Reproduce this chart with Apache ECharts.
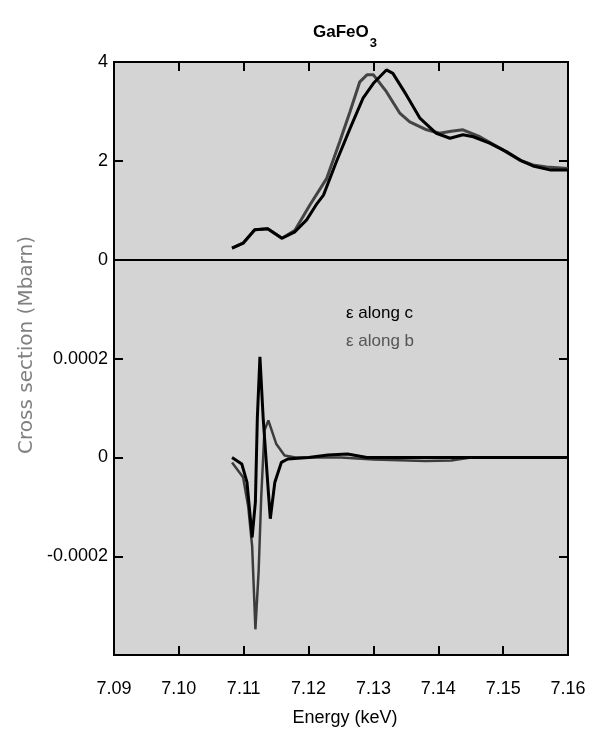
<!DOCTYPE html>
<html><head><meta charset="utf-8">
<script src="https://cdn.jsdelivr.net/npm/echarts@6/dist/echarts.min.js"></script>
<style>html,body{margin:0;padding:0;background:#fff}#c{width:597px;height:753px}</style>
</head><body><div id="c"></div>
<script>
// ---- data ----
const xTicks = [7.09, 7.10, 7.11, 7.12, 7.13, 7.14, 7.15, 7.16];
const topTicks = [0, 2, 4];
const botTicks = [-0.0002, 0, 0.0002];

// top panel: cross section (Mbarn)
const topCx = [7.1082,7.1099,7.1117,7.1137,7.1159,7.1179,7.1197,7.1213,7.1223,7.1243,7.1264,7.1284,7.1300,7.1320,7.1330,7.1351,7.1372,7.1397,7.1418,7.1438,7.1454,7.1479,7.1505,7.1530,7.1546,7.1572,7.1600];
const topCy = [0.24,0.34,0.61,0.63,0.44,0.57,0.81,1.14,1.31,1.99,2.66,3.27,3.57,3.84,3.77,3.33,2.86,2.56,2.46,2.53,2.49,2.36,2.19,1.99,1.90,1.82,1.82];
const topBx = [7.1082,7.1099,7.1117,7.1137,7.1159,7.1179,7.1202,7.1228,7.1248,7.1264,7.1279,7.1290,7.1300,7.1320,7.1341,7.1356,7.1382,7.1402,7.1420,7.1438,7.1464,7.1495,7.1525,7.1546,7.1567,7.1600];
const topBy = [0.24,0.34,0.61,0.63,0.44,0.60,1.11,1.65,2.39,3.00,3.60,3.74,3.74,3.40,2.96,2.79,2.63,2.56,2.60,2.63,2.49,2.26,2.02,1.92,1.88,1.85];

// bottom panel: dichroic signal
const botCx = [7.1082,7.1097,7.1105,7.1113,7.1118,7.1121,7.1125,7.1130,7.1138,7.1141,7.1148,7.1158,7.1168,7.1200,7.1230,7.1260,7.1290,7.1350,7.1600];
const botCy = [0.0,-0.000013,-0.00005,-0.000162,-0.00009,0.00008,0.000204,0.00008,-0.00007,-0.000124,-0.00005,-0.00001,-0.000003,0.0,0.000005,0.000007,0.0,0.0,0.0];
const botBx = [7.1082,7.1099,7.1107,7.1113,7.1116,7.1118,7.1123,7.1127,7.1132,7.1138,7.1150,7.1163,7.1180,7.1250,7.1300,7.1380,7.1420,7.1450,7.1600];
const botBy = [-0.00001,-0.00004,-0.0001,-0.00018,-0.00028,-0.000348,-0.00023,-0.00008,0.000055,0.000075,0.000028,0.000004,0.0,0.0,-0.000004,-0.000007,-0.000006,0.0,0.0];

const seriesNames = ['\u03b5 along c', '\u03b5 along b'];

function zip(a, b) { return a.map((v, i) => [v, b[i]]); }

const chart = echarts.init(document.getElementById('c'), null, {renderer: 'canvas'});
const FONT = 'Liberation Sans';
const L = 114, R = 29, T = 62, MID = 260, B = 98;

function xAx(gi, pos, showLabel) {
  return {
    type: 'value', gridIndex: gi, min: 7.09, max: 7.16, interval: 0.01, position: pos,
    axisLine: {show: false, onZero: false},
    axisTick: {show: true, inside: true, length: 9, lineStyle: {color: '#000', width: 2}},
    splitLine: {show: false},
    axisLabel: {show: showLabel, margin: 25, fontFamily: FONT, fontSize: 18, color: '#000',
      formatter: v => v.toFixed(2)}
  };
}
function yAx(gi, pos, min, max, interval, fmt, showLabel) {
  return {
    type: 'value', gridIndex: gi, min: min, max: max, interval: interval, position: pos,
    axisLine: {show: false, onZero: false},
    axisTick: {show: true, inside: true, length: 9, lineStyle: {color: '#000', width: 2}},
    splitLine: {show: false},
    axisLabel: {show: showLabel, margin: 6, fontFamily: FONT, fontSize: 18, color: '#000', formatter: fmt}
  };
}
const topFmt = v => topTicks.some(t => Math.abs(t - v) < 1e-9) ? String(v) : '';
const botFmt = v => {
  for (const t of botTicks) if (Math.abs(t - v) < 1e-9) return t === 0 ? '0' : t.toFixed(4);
  return '';
};

chart.setOption({
  animation: false,
  backgroundColor: '#fff',
  title: {
    text: '{a|GaFeO}{b|3}', left: 308, top: 10,
    textStyle: {rich: {
      a: {fontFamily: FONT, fontSize: 17, fontWeight: 'bold', color: '#000'},
      b: {fontFamily: FONT, fontSize: 13, fontWeight: 'bold', color: '#000', padding: [22, 0, 0, 1]}
    }}
  },
  grid: [
    {left: L, right: R, top: T, height: MID - T, show: true, backgroundColor: '#d4d4d4', borderColor: '#000', borderWidth: 2},
    {left: L, right: R, top: MID, bottom: B, show: true, backgroundColor: '#d4d4d4', borderColor: '#000', borderWidth: 2}
  ],
  xAxis: [
    xAx(0, 'top', false),
    xAx(1, 'bottom', true)
  ],
  yAxis: [
    yAx(0, 'left', 0, 4, 2, topFmt, true),
    yAx(0, 'right', 0, 4, 2, topFmt, false),
    yAx(1, 'left', -0.0004, 0.0004, 0.0002, botFmt, true),
    yAx(1, 'right', -0.0004, 0.0004, 0.0002, botFmt, false)
  ],
  graphic: [
    {type: 'text', x: 27, y: 345, rotation: Math.PI / 2, style: {
      text: 'Cross section (Mbarn)', fontFamily: 'DejaVu Sans', fontSize: 20, fill: '#808080',
      align: 'center', verticalAlign: 'middle'}},
    {type: 'text', x: 345, y: 718, style: {text: 'Energy (keV)', fontFamily: FONT, fontSize: 18, fill: '#000',
      align: 'center', verticalAlign: 'middle'}},
    {type: 'text', x: 346, y: 313, style: {text: seriesNames[0], fontFamily: FONT, fontSize: 17, fill: '#000', verticalAlign: 'middle'}},
    {type: 'text', x: 346, y: 341, style: {text: seriesNames[1], fontFamily: FONT, fontSize: 17, fill: '#555', verticalAlign: 'middle'}}
  ],
  series: [
    {name: seriesNames[1], type: 'line', xAxisIndex: 0, yAxisIndex: 0, data: zip(topBx, topBy), showSymbol: false, lineStyle: {color: '#444', width: 3}, z: 2},
    {name: seriesNames[0], type: 'line', xAxisIndex: 0, yAxisIndex: 0, data: zip(topCx, topCy), showSymbol: false, lineStyle: {color: '#000', width: 3}, z: 3},
    {name: seriesNames[1], type: 'line', xAxisIndex: 1, yAxisIndex: 2, data: zip(botBx, botBy), showSymbol: false, lineStyle: {color: '#3c3c3c', width: 2.5}, z: 2},
    {name: seriesNames[0], type: 'line', xAxisIndex: 1, yAxisIndex: 2, data: zip(botCx, botCy), showSymbol: false, lineStyle: {color: '#000', width: 3}, z: 3}
  ]
});
</script></body></html>
